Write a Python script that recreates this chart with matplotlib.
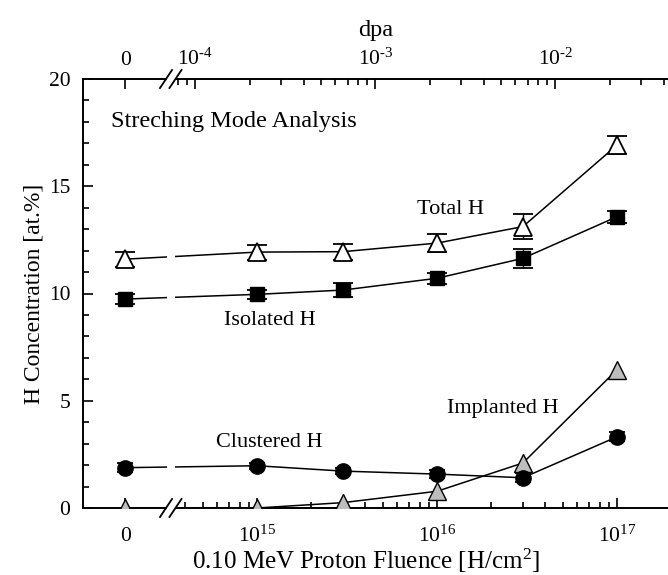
import numpy as np
import matplotlib
matplotlib.use("Agg")
import matplotlib.pyplot as plt
from matplotlib.ticker import FixedLocator, FixedFormatter, NullFormatter, MultipleLocator
from matplotlib.patches import Rectangle

plt.rcParams["font.family"] = ["Liberation Serif", "DejaVu Serif"]
plt.rcParams["mathtext.fontset"] = "custom"
plt.rcParams["mathtext.rm"] = "Liberation Serif"
plt.rcParams["mathtext.it"] = "Liberation Serif:italic"
plt.rcParams["mathtext.bf"] = "Liberation Serif:bold"

# proton fluence [H/cm^2], 0 = unirradiated reference
fluence = np.array([0, 1e15, 3e15, 1e16, 3e16, 1e17])

total_h = [11.6, 11.93, 11.95, 12.35, 13.12, 16.92]
total_err = [0.35, 0.35, 0.38, 0.42, 0.6, 0.42]
isolated_h = [9.74, 9.96, 10.16, 10.71, 11.64, 13.58]
isolated_err = [0.25, 0.2, 0.33, 0.25, 0.43, 0.27]
clustered_h = [1.88, 1.97, 1.72, 1.58, 1.41, 3.32]
clustered_err = [0.2, 0.15, 0.15, 0.2, 0.2, 0.2]
implanted_h = [0, 0, 0.25, 0.78, 2.1, 6.45]

# top axis: displacements per atom
dpa_per_fluence = 2.2e-19
dpa_major = [1e-4, 1e-3, 1e-2]
dpa_labels = ["0", r"$10^{\text{-}4}$", r"$10^{\text{-}3}$", r"$10^{\text{-}2}$"]

fluence_major = [0, 1e15, 1e16, 1e17]
fluence_labels = ["0", "$10^{15}$", "$10^{16}$", "$10^{17}$"]

# broken axis: zero sits left of the break, the rest is log10
ZERO_POS = 14.267
BREAK_POS = 14.517
X_LEFT = -0.234          # -> 14.033 on the scale
X_RIGHT = 10 ** 17.283


def fwd(x):
    x = np.asarray(x, dtype=float)
    return np.where(x > 0, np.log10(np.where(x > 0, x, 1.0)), ZERO_POS + x)


def inv(y):
    y = np.asarray(y, dtype=float)
    return np.where(y > BREAK_POS, 10.0 ** np.minimum(y, 300), y - ZERO_POS)


fig = plt.figure(figsize=(6.68, 5.75), dpi=100)
ax = fig.add_axes([83 / 668, 1 - 508 / 575, 585 / 668, 429 / 575])
ax.set_xscale("function", functions=(fwd, inv))

lw = 1.1
ax.errorbar(fluence, total_h, yerr=total_err, color="black", lw=lw, marker="^",
            ms=12.5, mfc="white", mec="black", mew=1.3, capsize=7, capthick=1.3,
            elinewidth=1.0, zorder=3)
ax.errorbar(fluence, isolated_h, yerr=isolated_err, color="black", lw=lw, marker="s",
            ms=10, mfc="black", mec="black", capsize=7, capthick=1.3,
            elinewidth=1.0, zorder=3)
ax.errorbar(fluence, clustered_h, yerr=clustered_err, color="black", lw=lw, marker="o",
            ms=11, mfc="black", mec="black", capsize=6, capthick=1.3,
            elinewidth=1.0, zorder=3)
ax.plot(fluence, implanted_h, color="black", lw=lw, marker="^", ms=12.5,
        mfc="#bdbdbd", mec="black", mew=1.0, zorder=3)

ax.set_xlim(X_LEFT, X_RIGHT)
ax.set_ylim(0, 20)

minor_f = [m * 10.0 ** e for e in (14, 15, 16, 17) for m in range(2, 10)]
minor_f = [v for v in minor_f if 10 ** BREAK_POS < v < X_RIGHT]
ax.xaxis.set_major_locator(FixedLocator(fluence_major))
ax.xaxis.set_major_formatter(FixedFormatter(fluence_labels))
ax.xaxis.set_minor_locator(FixedLocator(minor_f))
ax.xaxis.set_minor_formatter(NullFormatter())
ax.yaxis.set_major_locator(MultipleLocator(5))
ax.yaxis.set_minor_locator(MultipleLocator(1))

ax.tick_params(which="both", direction="in", top=False, right=False, width=1.2)
ax.tick_params(which="major", length=7)
ax.tick_params(which="minor", length=4)
ax.tick_params(axis="y", labelsize=15.5, pad=9)
ax.tick_params(axis="x", labelsize=15.5, pad=24)
for t in ax.xaxis.get_major_ticks():
    t.label1.set_verticalalignment("baseline")

ax.spines["top"].set_visible(False)
ax.spines["right"].set_visible(False)
for s in ("left", "bottom"):
    ax.spines[s].set_linewidth(1.4)

ax.set_xlabel("0.10 MeV Proton Fluence [H/cm$^2$]", fontsize=18)
ax.xaxis.set_label_coords(0.484, -0.09)
ax.set_ylabel("H Concentration [at.%]", fontsize=17)
ax.yaxis.set_label_coords(-0.065, 0.5)

# top dpa axis
ax2 = ax.twiny()
ax2.set_xscale("function", functions=(fwd, inv))
ax2.set_xlim(X_LEFT, X_RIGHT)
dpa_pos = [0] + [d / dpa_per_fluence for d in dpa_major]
minor_d = [m * 10.0 ** e / dpa_per_fluence for e in (-5, -4, -3, -2) for m in range(2, 10)]
minor_d = [v for v in minor_d if 10 ** BREAK_POS < v < X_RIGHT]
ax2.xaxis.set_major_locator(FixedLocator(dpa_pos))
ax2.xaxis.set_major_formatter(FixedFormatter(dpa_labels))
ax2.xaxis.set_minor_locator(FixedLocator(minor_d))
ax2.xaxis.set_minor_formatter(NullFormatter())
ax2.tick_params(which="both", direction="in", width=1.2, labelsize=15.5, pad=10)
ax2.tick_params(which="major", length=7)
ax2.tick_params(which="minor", length=4)
for t in ax2.xaxis.get_major_ticks():
    t.label2.set_verticalalignment("baseline")
for s in ("left", "right", "bottom"):
    ax2.spines[s].set_visible(False)
ax2.spines["top"].set_linewidth(1.4)
ax2.set_xlabel("dpa", fontsize=17.5)
ax2.xaxis.set_label_coords(0.501, 1.10)

# axis break: blank the band and draw the // marks
gap = Rectangle((0.1436, -0.03), 0.0137, 1.06, transform=ax2.transAxes,
                facecolor="white", edgecolor="none", clip_on=False, zorder=10)
ax2.add_patch(gap)
for yb in (0.0, 1.0):
    for xc in (0.1419, 0.1581):
        ax2.plot([xc - 0.0103, xc + 0.0103], [yb - 0.021, yb + 0.021],
                 transform=ax2.transAxes, color="black", lw=1.3,
                 clip_on=False, zorder=11)

# labels go on the top axes so the break band does not hide them
ax2.text(0.048, 0.900, "Streching Mode Analysis", transform=ax2.transAxes,
         fontsize=17.5, ha="left", va="center", zorder=12)
ax2.text(0.629, 0.695, "Total H", transform=ax2.transAxes, fontsize=16,
         ha="center", va="center", zorder=12)
ax2.text(0.320, 0.438, "Isolated H", transform=ax2.transAxes, fontsize=16,
         ha="center", va="center", zorder=12)
ax2.text(0.319, 0.152, "Clustered H", transform=ax2.transAxes, fontsize=16,
         ha="center", va="center", zorder=12)
ax2.text(0.718, 0.233, "Implanted H", transform=ax2.transAxes, fontsize=16,
         ha="center", va="center", zorder=12)

fig.savefig("out.png", dpi=100)
